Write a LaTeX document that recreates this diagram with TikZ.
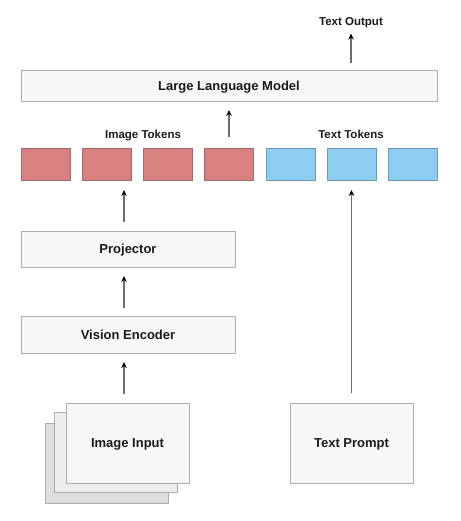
\documentclass[tikz,border=0pt]{standalone}
\usepackage{fontspec}
\setmainfont{Liberation Sans}
\usetikzlibrary{arrows.meta,positioning,calc}
\definecolor{boxfill}{HTML}{F7F7F7}
\definecolor{boxline}{HTML}{AEAEAE}
\definecolor{imgred}{HTML}{D98080}
\definecolor{imgredline}{HTML}{A26A6A}
\definecolor{txtblue}{HTML}{8DCDF0}
\definecolor{txtblueline}{HTML}{6A9AB8}
\definecolor{arrline}{HTML}{6E6E6E}
\definecolor{ink}{HTML}{1A1A1A}

\tikzset{
    block/.style={draw=boxline, fill=boxfill, line width=0.8pt, inner sep=0pt, outer sep=0pt, text=ink, text depth=0pt, font=\bfseries\fontsize{13}{15}\selectfont},
    imgtok/.style={draw=imgredline, fill=imgred, line width=0.8pt, minimum width=49pt, minimum height=32pt, inner sep=0pt, outer sep=0pt},
    txttok/.style={draw=txtblueline, fill=txtblue, line width=0.8pt, minimum width=49pt, minimum height=32pt, inner sep=0pt, outer sep=0pt},
    lbl/.style={text=ink, text depth=0pt, font=\bfseries\fontsize{11.5}{13}\selectfont},
    flow/.style={draw=arrline, line width=1.2pt, -{Stealth[length=6pt,width=5.5pt,black]}}
}

\begin{document}
\begin{tikzpicture}[x=1pt, y=-1pt]
    \useasboundingbox (0,0) rectangle (460,521);

    % Model
    \node[block, minimum width=416pt, minimum height=31pt] (llm) at (229,85.5) {Large Language Model};
    \node[lbl] (out) at (351,21) {Text Output};

    % Tokens
    \node[lbl] (imglbl) at (143,134) {Image Tokens};
    \node[lbl] (txtlbl) at (351,134) {Text Tokens};
    \node[imgtok] (tok1) at (45.5,164) {};
    \node[imgtok] (tok2) at (106.5,164) {};
    \node[imgtok] (tok3) at (167.5,164) {};
    \node[imgtok] (tok4) at (229,164) {};
    \node[txttok] (tok5) at (290.5,164) {};
    \node[txttok] (tok6) at (351.5,164) {};
    \node[txttok] (tok7) at (412.5,164) {};

    % Vision branch
    \node[block, minimum width=214pt, minimum height=36pt] (proj) at (128,249) {Projector};
    \node[block, minimum width=214pt, minimum height=37pt] (venc) at (128,334.5) {Vision Encoder};

    % Inputs
    \node[block, fill=black!13, minimum width=123pt, minimum height=80pt] (back) at (106.5,463) {};
    \node[block, fill=black!7, minimum width=123pt, minimum height=80pt] (mid) at (115.5,452) {};
    \node[block, minimum width=123pt, minimum height=80pt] (img) at (127.5,443) {Image Input};
    \node[block, minimum width=123pt, minimum height=80pt] (prompt) at (351.5,443) {Text Prompt};

    % Connectors
    \draw[flow] ([xshift=-3.5pt]img.north) ++(0,-9.5) coordinate (a1) -- ($(venc.south)+(-4,9)$);
    \draw[flow] ([xshift=-4pt]venc.north) ++(0,-8) coordinate (a2) -- ($(proj.south)+(-4,9)$);
    \draw[flow] ([xshift=-4pt]proj.north) ++(0,-9) coordinate (a3) -- ($(tok2.south -| a3)+(0,10)$);
    \draw[flow, shorten <=11pt, shorten >=9pt] (tok4.north) -- (tok4.north |- llm.south);
    \draw[flow, shorten <=10pt, shorten >=10pt] (prompt.north) -- (prompt.north |- tok6.south);
    \draw[flow, shorten <=7pt, shorten >=5pt] (llm.north -| out) -- (out.south);
\end{tikzpicture}
\end{document}
